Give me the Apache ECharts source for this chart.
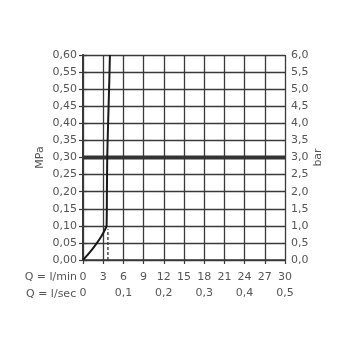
<!DOCTYPE html>
<html><head><meta charset="utf-8">
<script src="https://cdn.jsdelivr.net/npm/echarts@6/dist/echarts.min.js"></script>
<style>html,body{margin:0;padding:0;background:#fff}#c{width:350px;height:350px}</style>
</head><body><div id="c"></div>
<script>
// Data
const flowLmin = [0, 1, 2, 2.8, 3.3, 3.5, 3.55, 3.6, 3.7, 3.8, 3.9, 4.0];
const pressureMPa = [0, 0.022, 0.048, 0.072, 0.09, 0.1, 0.2, 0.3, 0.38, 0.45, 0.52, 0.6];
const dashedQ = [3.7, 3.7];
const dashedP = [0, 0.09];
const refQ = [0, 30];
const refP = [0.3, 0.3];
const xTicksLmin = [0, 3, 6, 9, 12, 15, 18, 21, 24, 27, 30];
const xTicksLsec = [0, 0.1, 0.2, 0.3, 0.4, 0.5];

const zip = (a, b) => a.map((v, i) => [v, b[i]]);
const comma = s => String(s).replace('.', ',');
const txt = {color: '#555', fontSize: 11, fontFamily: 'DejaVu Sans'};
const gridCol = '#3a3a3a';

const chart = echarts.init(document.getElementById('c'), null, {renderer: 'canvas'});
chart.setOption({
  animation: false,
  grid: {left: 83, right: 65, top: 55, bottom: 90},
  xAxis: [{
    type: 'value', min: 0, max: 30, interval: 3, position: 'bottom',
    axisLine: {show: true, lineStyle: {color: gridCol, width: 1.5}},
    axisTick: {show: true, length: 4, lineStyle: {color: gridCol, width: 1.2}},
    splitLine: {show: true, lineStyle: {color: gridCol, width: 1.3}},
    axisLabel: Object.assign({margin: 12, formatter: v => comma(v)}, txt)
  }, {
    type: 'value', min: 0, max: 0.5, interval: 0.1, position: 'bottom', offset: 16,
    axisLine: {show: false}, axisTick: {show: false}, splitLine: {show: false},
    axisLabel: Object.assign({margin: 12, formatter: v => comma(+v.toFixed(1))}, txt)
  }],
  yAxis: [{
    type: 'value', min: 0, max: 0.6, interval: 0.05, position: 'left',
    name: 'MPa', nameLocation: 'middle', nameRotate: 90, nameGap: 37, nameMoveOverlap: false,
    nameTextStyle: txt,
    axisLine: {show: true, lineStyle: {color: gridCol, width: 2}},
    axisTick: {show: true, length: 4, lineStyle: {color: gridCol, width: 1.2}},
    splitLine: {show: true, lineStyle: {color: gridCol, width: 1.3}},
    axisLabel: Object.assign({margin: 6, formatter: v => comma(v.toFixed(2))}, txt)
  }, {
    type: 'value', min: 0, max: 6, interval: 0.5, position: 'right',
    name: 'bar', nameLocation: 'middle', nameRotate: 90, nameGap: 28, nameMoveOverlap: false,
    nameTextStyle: txt,
    axisLine: {show: true, lineStyle: {color: gridCol, width: 1.5}},
    axisTick: {show: true, length: 4, lineStyle: {color: gridCol, width: 1.2}},
    splitLine: {show: false},
    axisLabel: Object.assign({margin: 6, formatter: v => comma(v.toFixed(1))}, txt)
  }],
  graphic: [
    {type: 'text', right: 273, top: 272, style: {text: 'Q = l/min', fill: '#555', font: '11px DejaVu Sans'}},
    {type: 'text', left: 26, top: 289, style: {text: 'Q = l/sec', fill: '#555', font: '11px DejaVu Sans'}}
  ],
  series: [{
    type: 'line', xAxisIndex: 0, yAxisIndex: 0, data: zip(refQ, refP),
    showSymbol: false, lineStyle: {color: '#333', width: 4}, silent: true
  }, {
    type: 'line', xAxisIndex: 0, yAxisIndex: 0, data: zip(dashedQ, dashedP),
    showSymbol: false, lineStyle: {color: '#333', width: 1.3, type: [3, 2]}
  }, {
    type: 'line', xAxisIndex: 0, yAxisIndex: 0, data: zip(flowLmin, pressureMPa),
    showSymbol: false, smooth: 0.2, lineStyle: {color: '#1a1a1a', width: 2}
  }]
});
</script></body></html>
